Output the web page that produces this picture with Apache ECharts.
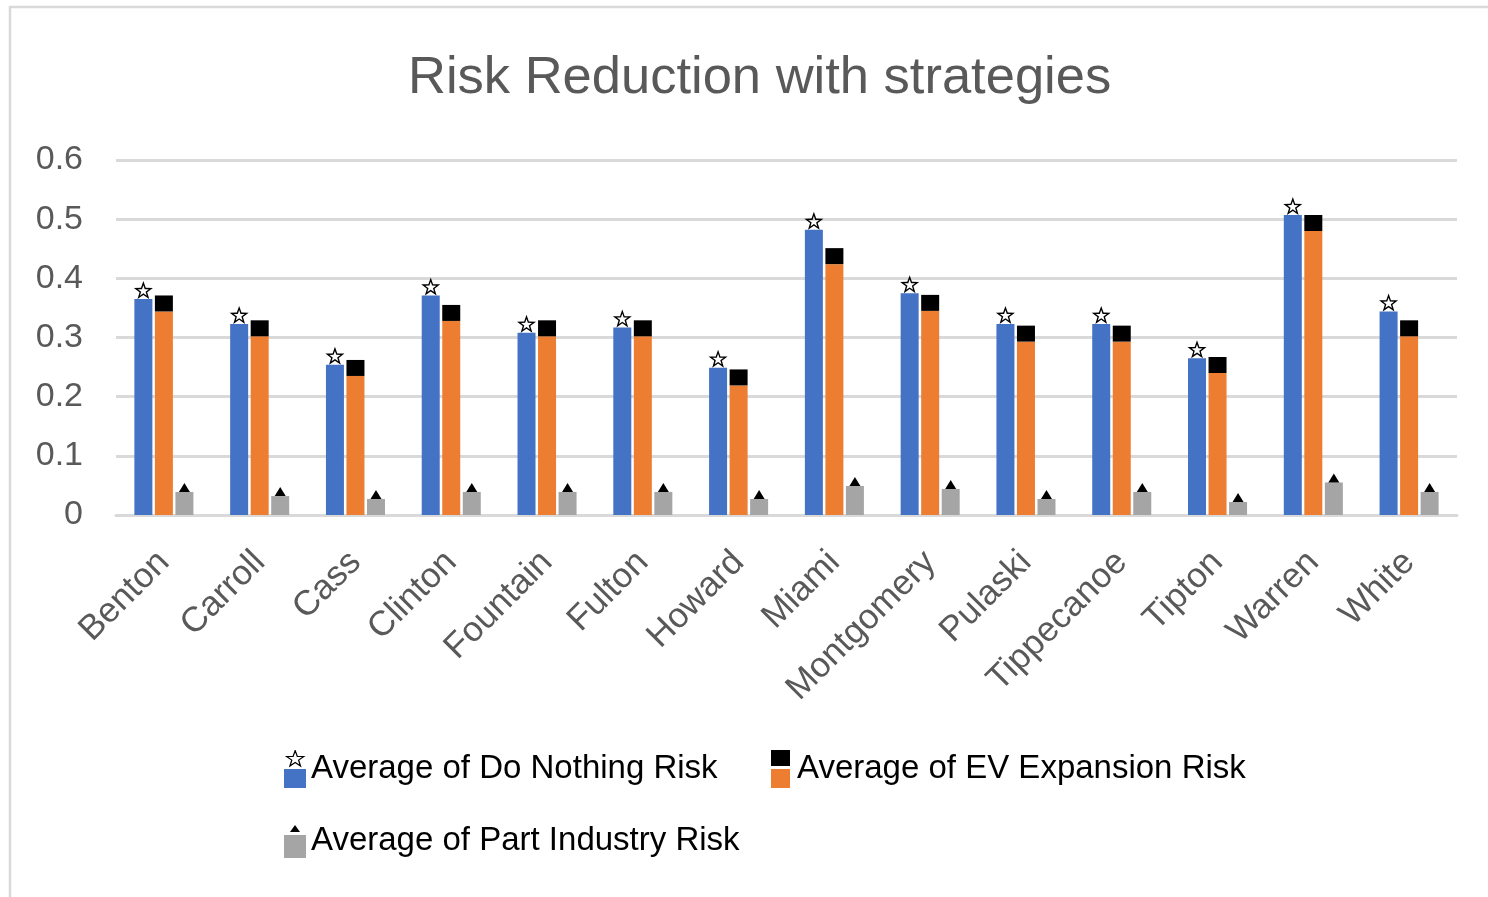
<!DOCTYPE html>
<html>
<head>
<meta charset="utf-8">
<title>Risk Reduction with strategies</title>
<script src="https://cdn.jsdelivr.net/npm/echarts@6/dist/echarts.min.js"></script>
<style>
  html, body { margin: 0; padding: 0; background: #ffffff; }
  #chart { width: 1488px; height: 897px; }
</style>
</head>
<body>
<div id="chart"></div>
<script>
// County names along the category axis
const counties = ['Benton', 'Carroll', 'Cass', 'Clinton', 'Fountain', 'Fulton', 'Howard',
  'Miami', 'Montgomery', 'Pulaski', 'Tippecanoe', 'Tipton', 'Warren', 'White'];

// Average risk per county for each strategy
const doNothingRisk = [0.365, 0.323, 0.254, 0.371, 0.308, 0.317, 0.249,
  0.482, 0.375, 0.323, 0.323, 0.265, 0.507, 0.344];
const evExpansionRisk = [0.344, 0.302, 0.235, 0.328, 0.302, 0.302, 0.219,
  0.424, 0.345, 0.293, 0.293, 0.240, 0.480, 0.302];
const partIndustryRisk = [0.039, 0.032, 0.027, 0.039, 0.039, 0.039, 0.027,
  0.049, 0.044, 0.027, 0.039, 0.022, 0.055, 0.039];

// Value axis ticks
const yMin = 0, yMax = 0.6, yStep = 0.1;

const seriesNames = ['Average of Do Nothing Risk', 'Average of EV Expansion Risk', 'Average of Part Industry Risk'];
const colors = ['#4472C4', '#ED7D31', '#A5A5A5'];

// Five-pointed star outline: outer star plus a reversed, shrunken inner star
// so the non-zero fill leaves a hollow centre.
const starPts = [[50, 0], [61.76, 33.82], [97.55, 34.55], [69.02, 56.18], [79.39, 90.45],
  [50, 70], [20.61, 90.45], [30.98, 56.18], [2.45, 34.55], [38.24, 33.82]];
function ringPath(pts, k) {
  const outer = pts.map((p, i) => (i ? 'L' : 'M') + p[0].toFixed(2) + ' ' + p[1].toFixed(2)).join(' ') + ' Z';
  const inner = pts.slice().reverse().map((p, i) => {
    const x = 50 + k * (p[0] - 50), y = 50 + k * (p[1] - 50);
    return (i ? 'L' : 'M') + x.toFixed(2) + ' ' + y.toFixed(2);
  }).join(' ') + ' Z';
  return outer + ' ' + inner;
}
const starD = starPts.map((p, i) => (i ? 'L' : 'M') + p[0] + ' ' + p[1]).join(' ') + ' Z';
const starOutline = 'path://' + ringPath(starPts, 0.58);

// Legend icons: the marker drawn above a colour swatch
function svgIcon(body) {
  const svg = '<svg xmlns="http://www.w3.org/2000/svg" width="22" height="38" viewBox="0 0 22 38">' + body + '</svg>';
  return 'image://data:image/svg+xml;charset=utf-8,' + encodeURIComponent(svg);
}
const iconDoNothing = svgIcon(
  '<path transform="translate(2.2,0.6) scale(0.18,0.17)" d="' + starD + '" fill="#fff" stroke="#000" stroke-width="7"/>' +
  '<rect x="0" y="19" width="22" height="19" fill="' + colors[0] + '"/>');
const iconEv = svgIcon(
  '<rect x="1" y="0" width="19" height="16" fill="#000"/>' +
  '<rect x="1" y="19" width="19" height="19" fill="' + colors[1] + '"/>');
const iconPart = svgIcon(
  '<polygon points="11,3 16,10 6,10" fill="#000"/>' +
  '<rect x="0" y="13" width="22" height="23" fill="' + colors[2] + '"/>');

const barWidth = 18;
const barGap = '14%';

function barSeries(name, data, color) {
  return {
    name: name, type: 'bar', data: data,
    barWidth: barWidth, barGap: barGap,
    itemStyle: { color: color },
    z: 2
  };
}
// Marker sitting on the top end of each bar
function markerSeries(name, data, symbol, size, style) {
  return {
    name: name, type: 'pictorialBar', data: data,
    barWidth: barWidth, barGap: barGap,
    symbol: symbol, symbolSize: size,
    symbolPosition: 'end', symbolOffset: [0, '-100%'],
    itemStyle: style,
    z: 5
  };
}

const legendText = { fontSize: 33, color: '#000000', fontFamily: 'Liberation Sans' };

const chart = echarts.init(document.getElementById('chart'), null, { renderer: 'canvas' });
chart.setOption({
  animation: false,
  backgroundColor: '#ffffff',
  graphic: [{
    type: 'rect', silent: true,
    shape: { x: 10, y: 7, width: 1600, height: 1000 },
    style: { fill: 'none', stroke: '#d9d9d9', lineWidth: 2.5 },
    z: -10
  }],
  title: {
    text: 'Risk Reduction with strategies',
    left: 403, top: 47,
    textStyle: { fontSize: 52.5, fontWeight: 'normal', color: '#595959', fontFamily: 'Liberation Sans' }
  },
  legend: [
    { data: [{ name: seriesNames[0], icon: iconDoNothing }], left: 284, top: 750, padding: 0,
      itemWidth: 22, itemHeight: 38, textStyle: legendText, selectedMode: false },
    { data: [{ name: seriesNames[1], icon: iconEv }], left: 770, top: 750, padding: 0,
      itemWidth: 22, itemHeight: 38, textStyle: legendText, selectedMode: false },
    { data: [{ name: seriesNames[2], icon: iconPart }], left: 284, top: 822, padding: 0,
      itemWidth: 22, itemHeight: 38, textStyle: legendText, selectedMode: false }
  ],
  grid: { left: 116, right: 31, top: 160, bottom: 382, containLabel: false, outerBoundsMode: 'none' },
  xAxis: {
    type: 'category',
    data: counties,
    axisTick: { show: false },
    axisLine: { show: true, lineStyle: { color: '#d9d9d9', width: 3 } },
    axisLabel: {
      rotate: 45, margin: 42, interval: 0,
      fontSize: 35, color: '#595959', fontFamily: 'Liberation Sans'
    }
  },
  yAxis: {
    type: 'value',
    min: yMin, max: yMax, interval: yStep,
    axisLine: { show: false },
    axisTick: { show: false },
    splitLine: { lineStyle: { color: '#d9d9d9', width: 3 } },
    axisLabel: {
      margin: 33, fontSize: 34, color: '#595959', fontFamily: 'Liberation Sans',
      padding: [0, 0, 8, 0]
    }
  },
  series: [
    barSeries(seriesNames[0], doNothingRisk, colors[0]),
    barSeries(seriesNames[1], evExpansionRisk, colors[1]),
    barSeries(seriesNames[2], partIndustryRisk, colors[2]),
    markerSeries(seriesNames[0], doNothingRisk, starOutline, [19, 18], { color: '#000000' }),
    markerSeries(seriesNames[1], evExpansionRisk, 'rect', [18, 16], { color: '#000000' }),
    markerSeries(seriesNames[2], partIndustryRisk, 'triangle', [11, 9], { color: '#000000' })
  ]
});
</script>
</body>
</html>
